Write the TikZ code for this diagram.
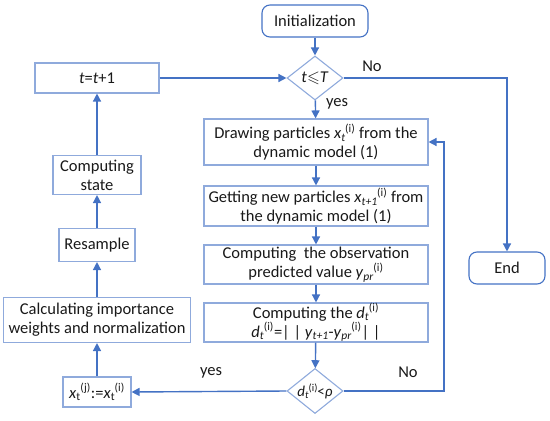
\documentclass[tikz,border=0pt]{standalone}
\usepackage{amsmath,amssymb}
\usepackage{fontspec}
\setmainfont{Carlito}
\usetikzlibrary{shapes.geometric,arrows.meta}
\definecolor{lineblue}{HTML}{4472C4}
\definecolor{boxblue}{HTML}{8FAADC}
\newcommand\ssp[3]{#1$_{\text{#2}}$\kern-0.5pt$^{\text{#3}}$}
\begin{document}
\begin{tikzpicture}[x=1pt,y=-1pt,
  font=\fontsize{16.5}{19}\selectfont,
  box/.style={draw=boxblue,line width=1.1pt,rectangle,align=center,inner sep=0pt,text=black!90},
  term/.style={box,draw=lineblue,rounded corners=8pt},
  dec/.style={draw=boxblue,line width=1.1pt,diamond,inner sep=0pt,aspect=1.27,text=black!90},
  conn/.style={draw=lineblue,line width=1.4pt},
  arr/.style={conn,-{Triangle[width=8pt,length=8pt]}},
  lab/.style={text=black!90}]
\useasboundingbox (0,0) rectangle (550,421);
\node[term,minimum width=106pt,minimum height=32pt] (init) at (315,21) {Initialization};
\node[dec,minimum width=56pt,minimum height=44pt] (d1) at (315,78) {\textit{t}$\leqslant$\textit{T}};
\node[box,minimum width=124pt,minimum height=30pt] (tb) at (97,78) {\textit{t}=\textit{t}+1};
\node[box,minimum width=224pt,minimum height=46pt] (draw) at (316,142) {Drawing particles \ssp{\textit{x}}{\textit{t}}{(i)} from the\\dynamic model (1)};
\node[box,minimum width=224pt,minimum height=40pt] (getn) at (316,206) {Getting new particles \ssp{\textit{x}}{\textit{t+1}}{(i)} from\\the dynamic model (1)};
\node[box,minimum width=224pt,minimum height=39pt] (obs) at (316,264.5) {Computing\ \ the observation\\predicted value \ssp{\textit{y}}{\textit{pr}}{(i)}};
\node[box,minimum width=224pt,minimum height=39pt] (dt) at (316,322.5) {Computing the \ssp{\textit{d}}{\textit{t}}{(i)}\\\ssp{\textit{d}}{\textit{t}}{(i)}=| | \textit{y}$_{\text{\textit{t+1}}}$-\ssp{\textit{y}}{\textit{pr}}{(i)}| |};
\node[dec,minimum width=56pt,minimum height=45pt,font=\fontsize{15}{17}\selectfont] (d2) at (315,391) {\ssp{\textit{d}}{\textit{t}}{(i)}\kern-0.5pt<\textit{ρ}};
\node[term,minimum width=76pt,minimum height=32pt] (end) at (507,268) {End};
\node[box,minimum width=68pt,minimum height=30pt] (xt) at (97,392) {\ssp{\textit{x}}{t}{(j)}:=\ssp{\textit{x}}{t}{(i)}};
\node[box,minimum width=187pt,minimum height=45pt] (calc) at (97,320) {Calculating importance\\weights and normalization};
\node[box,minimum width=76pt,minimum height=33pt] (res) at (97,245) {Resample};
\node[box,minimum width=88pt,minimum height=39pt] (st) at (97,175) {Computing\\state};
\draw[arr] (init) -- (d1);
\draw[arr] (d1) -- (draw);
\node[lab] (yes1) at (337,104) {yes};
\draw[arr] (draw) -- (getn);
\draw[arr] (getn) -- (obs);
\draw[arr] (obs) -- (dt);
\draw[arr] (dt) -- (d2);
\coordinate (c1) at (507,78);
\draw[arr] (d1.east) -- (c1) -- (end.north);
\node[lab] (no1) at (372,66) {No};
\coordinate (c2) at (444,391);
\draw[arr] (d2.east) -- (c2) |- (draw.east);
\node[lab] (no2) at (408,372) {No};
\draw[arr] (d2.west) -- (xt.east);
\node[lab] (yes2) at (211,373) {yes};
\draw[arr] (xt) -- (calc);
\draw[arr] (calc) -- (res);
\draw[arr] (res) -- (st);
\draw[arr] (st) -- (tb);
\draw[arr] (tb.east) -- (d1.west);
\end{tikzpicture}
\end{document}
